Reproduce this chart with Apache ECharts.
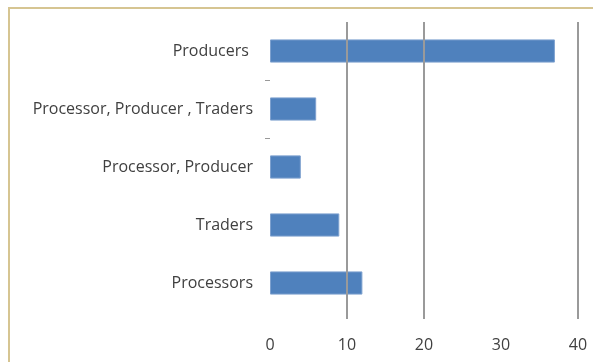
<!DOCTYPE html>
<html>
<head>
<meta charset="utf-8">
<script src="https://cdn.jsdelivr.net/npm/echarts@6/dist/echarts.min.js"></script>
<style>
html,body{margin:0;padding:0;background:#fff;}
#chart{width:593px;height:362px;}
</style>
</head>
<body>
<div id="chart"></div>
<script>
const categories = ["Producers ", "Processor, Producer , Traders", "Processor, Producer", "Traders", "Processors"];
const values = [37, 6, 4, 9, 12];
const xTicks = [0, 10, 20, 30, 40];
const gridLineValues = [10, 20, 40];
const boundaryTicks = [1, 2];

const chart = echarts.init(document.getElementById('chart'));
const labelFont = 'Open Sans';
chart.setOption({
  animation: false,
  backgroundColor: '#fff',
  graphic: [{
    type: 'rect', shape: {x: 9, y: 8, width: 700, height: 500},
    style: {fill: 'none', stroke: '#d6c592', lineWidth: 2}, silent: true
  }],
  grid: [
    {left: 270, right: 15, top: 22, bottom: 50},
    {left: 270, right: 15, top: 22, bottom: 43}
  ],
  xAxis: [
    {gridIndex: 0, type: 'value', min: 0, max: 40, interval: 10,
     axisLine: {show: false}, axisTick: {show: false}, splitLine: {show: false}, axisLabel: {show: false}},
    {gridIndex: 1, type: 'value', min: 0, max: 40, interval: 10,
     axisLine: {show: false}, axisTick: {show: false}, splitLine: {show: false},
     axisLabel: {show: true, margin: 18, color: '#404040', fontSize: 16, fontFamily: labelFont,
       formatter: v => xTicks.includes(v) ? String(v) : ''}}
  ],
  yAxis: [
    {gridIndex: 0, type: 'category', data: categories, inverse: true,
     axisLine: {show: false}, axisTick: {show: false},
     axisLabel: {margin: 17, color: '#404040', fontSize: 16, fontFamily: labelFont}},
    {gridIndex: 1, type: 'value', min: 0, max: 1, show: false},
    {gridIndex: 0, type: 'value', min: 0, max: categories.length, interval: 1, inverse: true, position: 'left',
     axisLine: {show: false}, axisLabel: {show: false}, splitLine: {show: false},
     axisTick: {show: true, length: 5, lineStyle: {color: '#999'}, customValues: boundaryTicks}}
  ],
  series: [
    {type: 'bar', xAxisIndex: 0, yAxisIndex: 0, data: values, barCategoryGap: '60%',
     itemStyle: {color: '#4f81bd', borderColor: '#7ea1cf', borderWidth: 1}, z: 2},
    {type: 'scatter', xAxisIndex: 1, yAxisIndex: 1, data: [], z: 5,
     markLine: {silent: true, symbol: 'none', label: {show: false},
       lineStyle: {color: '#9a9a9a', width: 2, type: 'solid'},
       data: gridLineValues.map(v => ({xAxis: v}))}}
  ]
});
</script>
</body>
</html>
